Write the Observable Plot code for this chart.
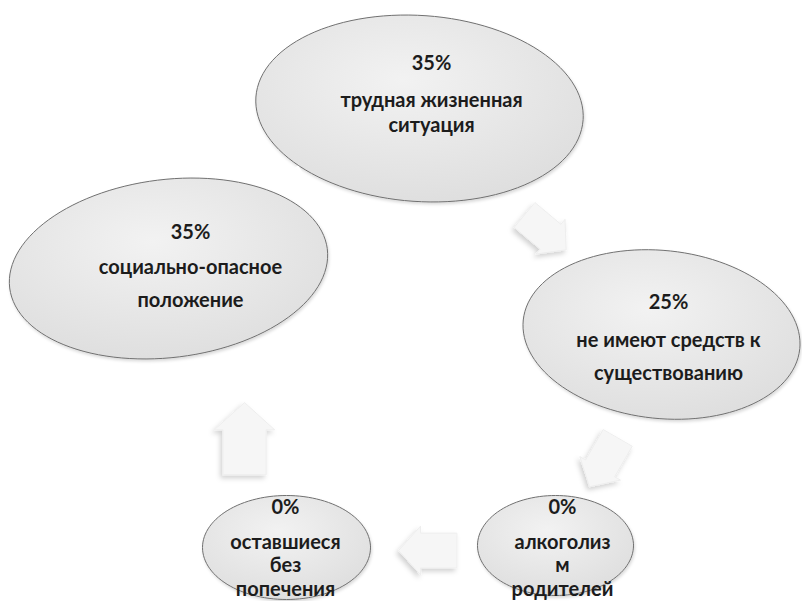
<!DOCTYPE html>
<html>
<head>
<meta charset="utf-8">
<script src="https://cdn.jsdelivr.net/npm/d3@7"></script>
<script src="https://cdn.jsdelivr.net/npm/@observablehq/plot@0.6"></script>
<style>
  html, body { margin: 0; padding: 0; background: #fff; }
  #chart svg { display: block; }
</style>
</head>
<body>
<div id="chart"></div>
<script>
// ---- data ----
const categories = [
  "трудная жизненная\nситуация",
  "социально-опасное\nположение",
  "не имеют средств к\nсуществованию",
  "алкоголиз\nм\nродителей",
  "оставшиеся\nбез\nпопечения"
];
const values = [35, 35, 25, 0, 0];

// ---- layout (diagram geometry, pixel units) ----
const centerX = [419, 168, 661, 555, 286];
const centerY = [108, 268, 334, 545, 547];
const radiusX = [164, 160, 139, 78, 84];
const radiusY = [93, 89, 84, 50, 52];
const rotation = [4, -7, 6, 0, 0];
const pctY = [63, 232, 302, 507, 507];
const labelY = [100, 267, 340, 542, 542];
const lineGap = [25, 33, 33, 23.5, 23.5];
const textX = [431, 190, 668, 562, 285];

const arrowX = [545, 603, 427, 244];
const arrowY = [232, 462, 550, 438];
const arrowAngle = [40, 120, 180, -90];
const arrowLen = [54, 56, 58, 72];

const connector = [[296, 166], [322, 208]];

// ---- build geometry tables ----
const ellipsePts = [];
categories.forEach((c, i) => {
  const th = rotation[i] * Math.PI / 180;
  for (let k = 0; k < 120; k++) {
    const t = 2 * Math.PI * k / 120;
    const ex = radiusX[i] * Math.cos(t), ey = radiusY[i] * Math.sin(t);
    ellipsePts.push({
      id: i,
      x: centerX[i] + ex * Math.cos(th) - ey * Math.sin(th),
      y: centerY[i] + ex * Math.sin(th) + ey * Math.cos(th)
    });
  }
});

const arrowPts = [];
arrowX.forEach((ax, i) => {
  const L = arrowLen[i], h = L * 0.42, s = L * 0.3, hl = L * 0.38;
  const shape = [[-L/2, -s], [L/2 - hl, -s], [L/2 - hl, -h], [L/2, 0], [L/2 - hl, h], [L/2 - hl, s], [-L/2, s]];
  const th = arrowAngle[i] * Math.PI / 180;
  shape.forEach(([px, py]) => {
    arrowPts.push({
      id: i,
      x: ax + px * Math.cos(th) - py * Math.sin(th),
      y: arrowY[i] + px * Math.sin(th) + py * Math.cos(th)
    });
  });
});

const textRows = [];
categories.forEach((c, i) => {
  textRows.push({x: textX[i], y: pctY[i], text: values[i] + "%"});
  c.split("\n").forEach((line, j) => {
    textRows.push({x: textX[i], y: labelY[i] + j * lineGap[i], text: line});
  });
});

const linkRows = [{x1: connector[0][0], y1: connector[0][1], x2: connector[1][0], y2: connector[1][1]}];

const chart = Plot.plot({
  width: 802,
  height: 601,
  margin: 0,
  style: {background: "#fff", fontFamily: "Lato, 'Open Sans', sans-serif"},
  x: {type: "linear", domain: [0, 802], range: [0, 802], axis: null},
  y: {type: "linear", domain: [0, 601], range: [0, 601], axis: null},
  marks: [
    Plot.line(ellipsePts, {x: "x", y: "y", z: "id", curve: "linear-closed",
      fill: "#e8e8e8", stroke: "#707070", strokeWidth: 1, className: "ell"}),
    Plot.link(linkRows, {x1: "x1", y1: "y1", x2: "x2", y2: "y2", stroke: "#ffffff", strokeWidth: 4}),
    Plot.line(arrowPts, {x: "x", y: "y", z: "id", curve: "linear-closed",
      fill: "#f6f6f6", stroke: "#eeeeee", strokeWidth: 1, className: "arr"}),
    Plot.text(textRows, {x: "x", y: "y", text: "text", fontSize: 20, fontWeight: "bold",
      fill: "#1c1c1c", textAnchor: "middle"})
  ]
});

// gradient + shadows
const svg = d3.select(chart);
const defs = svg.insert("defs", ":first-child");
const g = defs.append("radialGradient").attr("id", "ellGrad")
  .attr("cx", "45%").attr("cy", "35%").attr("r", "75%");
g.append("stop").attr("offset", "0%").attr("stop-color", "#f2f2f2");
g.append("stop").attr("offset", "100%").attr("stop-color", "#dcdcdc");
const f = defs.append("filter").attr("id", "shadow").attr("x", "-20%").attr("y", "-20%").attr("width", "140%").attr("height", "140%");
f.append("feDropShadow").attr("dx", 1).attr("dy", 2).attr("stdDeviation", 1.5).attr("flood-color", "#000").attr("flood-opacity", 0.15);
const f2 = defs.append("filter").attr("id", "ashadow").attr("x", "-30%").attr("y", "-30%").attr("width", "160%").attr("height", "160%");
f2.append("feDropShadow").attr("dx", -2).attr("dy", 3).attr("stdDeviation", 2.5).attr("flood-color", "#000").attr("flood-opacity", 0.18);
svg.selectAll("g.ell path").attr("fill", "url(#ellGrad)").attr("filter", "url(#shadow)");
svg.selectAll("g.arr path").attr("filter", "url(#ashadow)");

document.getElementById("chart").appendChild(chart);
</script>
</body>
</html>
